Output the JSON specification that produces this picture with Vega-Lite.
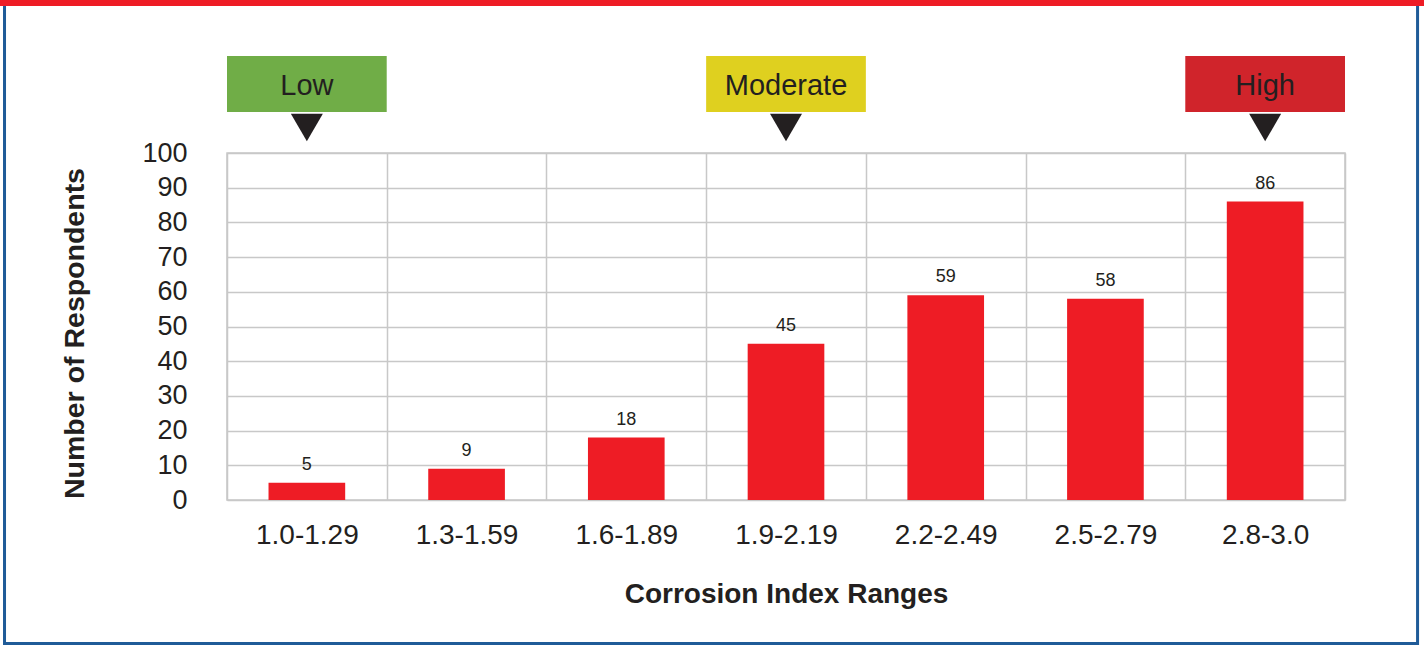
{
  "$schema": "https://vega.github.io/schema/vega-lite/v6.json",
  "width": 1118,
  "height": 347,
  "autosize": {"type": "none"},
  "padding": {"left": 227, "top": 153, "right": 79, "bottom": 145},
  "background": "white",
  "config": {
    "view": {"stroke": "#c8c8c8", "strokeWidth": 1.5},
    "font": "Liberation Sans",
    "text": {"font": "Liberation Sans"},
    "axisY": {
      "tickCount": 11,
      "labelOverlap": false,
      "labelFontSize": 27,
      "labelColor": "#231F20",
      "labelFont": "Liberation Sans",
      "labelPadding": 40,
      "ticks": false,
      "tickSize": 0,
      "domain": false,
      "grid": true,
      "gridColor": "#c8c8c8",
      "gridWidth": 1.5,
      "titleFontSize": 28.5,
      "titleFontWeight": "bold",
      "titleColor": "#231F20",
      "titleFont": "Liberation Sans",
      "titlePadding": 52
    }
  },
  "datasets": {
    "counts": [
      {"range": "1.0-1.29", "count": 5},
      {"range": "1.3-1.59", "count": 9},
      {"range": "1.6-1.89", "count": 18},
      {"range": "1.9-2.19", "count": 45},
      {"range": "2.2-2.49", "count": 59},
      {"range": "2.5-2.79", "count": 58},
      {"range": "2.8-3.0", "count": 86}
    ],
    "levels": [
      {"range": "1.0-1.29", "level": "Low"},
      {"range": "1.9-2.19", "level": "Moderate"},
      {"range": "2.8-3.0", "level": "High"}
    ]
  },
  "resolve": {"scale": {"x": "independent"}, "axis": {"x": "independent"}},
  "layer": [
    {
      "data": {"values": [{"part": "frame"}]},
      "layer": [
        {
          "mark": {"type": "rect", "fill": null, "stroke": "#1F5B98", "strokeWidth": 3},
          "encoding": {
            "x": {"datum": -0.199, "type": "quantitative", "scale": {"domain": [0, 1], "nice": false, "zero": false}, "axis": null},
            "x2": {"datum": 1.0649},
            "y": {"datum": -41.35, "type": "quantitative", "scale": {"domain": [0, 100], "nice": false},
                  "axis": {"title": "Number of Respondents", "values": [0, 10, 20, 30, 40, 50, 60, 70, 80, 90, 100], "tickCount": 11, "titleY": 180}},
            "y2": {"datum": 142.8}
          }
        },
        {
          "mark": {"type": "rect", "fill": "#EE1C25"},
          "encoding": {
            "x": {"datum": -0.2031, "type": "quantitative", "scale": {"domain": [0, 1], "nice": false, "zero": false}, "axis": null},
            "x2": {"datum": 1.0707},
            "y": {"datum": 142.36, "type": "quantitative", "scale": {"domain": [0, 100], "nice": false},
                  "axis": {"title": "Number of Respondents", "values": [0, 10, 20, 30, 40, 50, 60, 70, 80, 90, 100], "tickCount": 11, "titleY": 180}},
            "y2": {"datum": 144.2}
          }
        }
      ]
    },
    {
      "layer": [
        {
          "data": {"name": "counts"},
          "mark": {"type": "bar", "color": "#EE1C25", "width": {"band": 0.48}},
          "encoding": {
            "x": {
              "field": "range", "type": "nominal", "sort": null,
              "scale": {"domain": ["1.0-1.29", "1.3-1.59", "1.6-1.89", "1.9-2.19", "2.2-2.49", "2.5-2.79", "2.8-3.0"], "paddingInner": 0, "paddingOuter": 0},
              "axis": {
                "title": "Corrosion Index Ranges",
                "titleFontSize": 28,
                "titleFontWeight": "bold",
                "titleColor": "#231F20",
                "titlePadding": 31,
                "titleFont": "Liberation Sans",
                "labelAngle": 0,
                "labelFontSize": 28,
                "labelColor": "#231F20",
                "labelFont": "Liberation Sans",
                "labelPadding": 21,
                "ticks": false,
                "tickSize": 0,
                "domain": false,
                "grid": true,
                "gridColor": "#c8c8c8",
                "gridWidth": 1.5,
                "tickBand": "extent"
              }
            },
            "y": {
              "field": "count", "type": "quantitative",
              "scale": {"domain": [0, 100], "nice": false},
              "axis": {"title": "Number of Respondents", "values": [0, 10, 20, 30, 40, 50, 60, 70, 80, 90, 100], "tickCount": 11, "titleY": 180}
            }
          }
        },
        {
          "data": {"name": "counts"},
          "mark": {"type": "text", "fontSize": 18, "color": "#231F20", "baseline": "alphabetic", "dy": -13},
          "encoding": {
            "x": {"field": "range", "type": "nominal", "sort": null},
            "y": {"field": "count", "type": "quantitative", "scale": {"domain": [0, 100], "nice": false},
                  "axis": {"title": "Number of Respondents", "values": [0, 10, 20, 30, 40, 50, 60, 70, 80, 90, 100], "tickCount": 11, "titleY": 180}},
            "text": {"field": "count", "type": "quantitative"}
          }
        },
        {
          "data": {"name": "levels"},
          "mark": {"type": "bar"},
          "encoding": {
            "x": {"field": "range", "type": "nominal", "sort": null},
            "y": {"datum": 111.82, "type": "quantitative", "scale": {"domain": [0, 100], "nice": false},
                  "axis": {"title": "Number of Respondents", "values": [0, 10, 20, 30, 40, 50, 60, 70, 80, 90, 100], "tickCount": 11, "titleY": 180}},
            "y2": {"datum": 127.95},
            "color": {
              "field": "level", "type": "nominal",
              "scale": {"domain": ["Low", "Moderate", "High"], "range": ["#70AD47", "#DFD01F", "#D0242B"]},
              "legend": null
            }
          }
        },
        {
          "data": {"name": "levels"},
          "mark": {"type": "text", "fontSize": 29, "color": "#231F20", "baseline": "middle"},
          "encoding": {
            "x": {"field": "range", "type": "nominal", "sort": null},
            "y": {"datum": 119.3, "type": "quantitative", "scale": {"domain": [0, 100], "nice": false},
                  "axis": {"title": "Number of Respondents", "values": [0, 10, 20, 30, 40, 50, 60, 70, 80, 90, 100], "tickCount": 11, "titleY": 180}},
            "text": {"field": "level", "type": "nominal"}
          }
        },
        {
          "data": {"name": "levels"},
          "mark": {"type": "point", "shape": "triangle-down", "size": 1024, "filled": true, "color": "#231F20", "opacity": 1},
          "encoding": {
            "x": {"field": "range", "type": "nominal", "sort": null},
            "y": {"datum": 107.35, "type": "quantitative", "scale": {"domain": [0, 100], "nice": false},
                  "axis": {"title": "Number of Respondents", "values": [0, 10, 20, 30, 40, 50, 60, 70, 80, 90, 100], "tickCount": 11, "titleY": 180}}
          }
        }
      ]
    }
  ]
}
